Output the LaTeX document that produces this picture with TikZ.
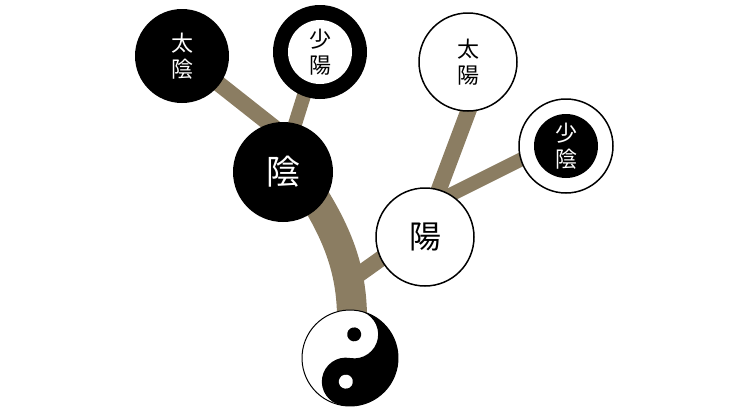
\documentclass[tikz,border=0pt]{standalone}
\usepackage{fontspec}
\newfontfamily\cjk{Noto Sans CJK JP}
\definecolor{branch}{HTML}{8B7D62}
\begin{document}
\begin{tikzpicture}[x=1pt,y=-1pt,
  br/.style={draw=branch,line width=#1,line cap=butt},
  blk/.style={circle,fill=black,text=white,inner sep=0pt,font=\cjk\fontsize{22}{26}\selectfont,align=center},
  wht/.style={circle,fill=white,draw=black,line width=1.5pt,inner sep=0pt,font=\cjk\fontsize{22}{26}\selectfont,align=center}]
\useasboundingbox (0,0) rectangle (740,416);
% coordinates
\coordinate (yy) at (350,358);
% branches
\draw[br=30pt] (352,318) .. controls (352,260) and (330,220) .. (300,175);
\draw[br=16pt] (358,275) -- (410,238);
\draw[br=16pt] (195,65) -- (290,140);
\draw[br=14pt] (312,70) -- (290,140);
\draw[br=16pt] (480,80) -- (435,200);
\draw[br=14pt] (560,140) -- (430,205);
% nodes
\node[blk,minimum size=94pt] (taiin) at (182,56) {太\\陰};
\node[circle,fill=black,minimum size=94pt] (shoyo) at (320,52) {};
\node[circle,fill=white,minimum size=64pt,inner sep=0pt,font=\cjk\fontsize{22}{26}\selectfont,align=center] (shoyoin) at (shoyo) {少\\陽};
\node[blk,minimum size=100pt,font=\cjk\fontsize{34}{38}\selectfont] (in) at (283,172) {陰};
\node[wht,minimum size=98pt] (taiyo) at (468,62) {太\\陽};
\node[wht,minimum size=94pt] (shoin) at (566,146) {};
\node[blk,minimum size=64pt] (shoinin) at (shoin) {少\\陰};
\node[wht,minimum size=98pt,font=\cjk\fontsize{32}{36}\selectfont] (yo) at (425,237) {陽};
% yin-yang
\begin{scope}[shift={(yy)},x=1pt,y=1pt,rotate=-10]
\fill[white] (0,0) circle[radius=48];
\fill[black] (0,48) arc[start angle=90,end angle=-90,radius=48]
  arc[start angle=-90,end angle=-270,radius=24]
  arc[start angle=-90,end angle=90,radius=24];
\draw[line width=1pt] (0,0) circle[radius=48];
\fill[black] (0,24) circle[radius=7];
\fill[white] (0,-24) circle[radius=7];
\end{scope}
\end{tikzpicture}
\end{document}
